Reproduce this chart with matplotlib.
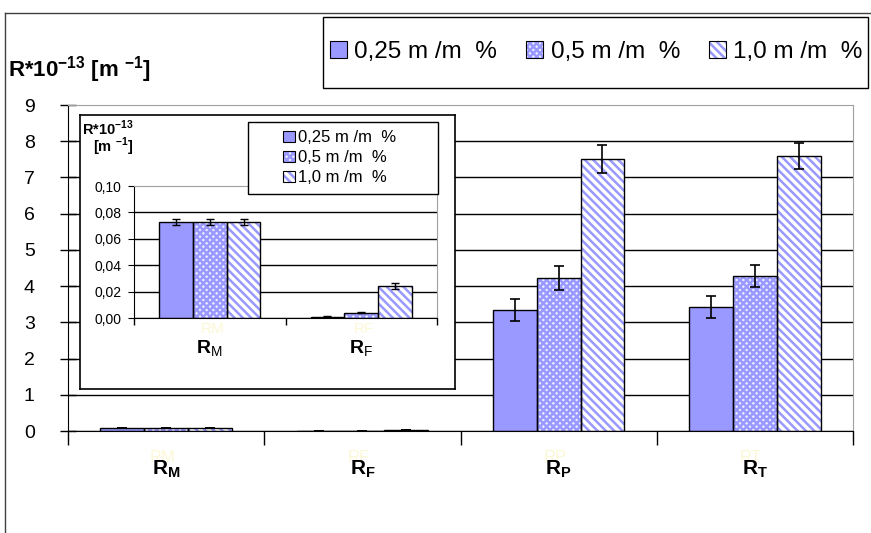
import numpy as np
import matplotlib
matplotlib.use('Agg')
import matplotlib.pyplot as plt
from matplotlib.patches import Patch, Rectangle
from matplotlib.lines import Line2D

plt.rcParams['font.family'] = ['Liberation Sans', 'DejaVu Sans']
plt.rcParams['mathtext.fontset'] = 'custom'
plt.rcParams['mathtext.rm'] = 'Liberation Sans'
plt.rcParams['mathtext.bf'] = 'Liberation Sans:bold'
plt.rcParams['hatch.linewidth'] = 1.8

#%%
# data
categories = ['M', 'F', 'P', 'T']
series = ['0,25 m /m  %', '0,5 m /m  %', '1,0 m /m  %']
vals_025 = [0.073, 0.001, 3.34, 3.43]
vals_05 = [0.073, 0.004, 4.23, 4.28]
vals_10 = [0.073, 0.024, 7.51, 7.60]
err_025 = [0.0022, 0.0003, 0.30, 0.30]
err_05 = [0.0022, 0.0005, 0.33, 0.30]
err_10 = [0.0022, 0.0023, 0.38, 0.36]
inset_cats = 2  # inset shows R_M and R_F only
inset_ticks = [0.0, 0.02, 0.04, 0.06, 0.08, 0.10]
inset_ticklabels = ['0,00', '0,02', '0,04', '0,06', '0,08', '0,10']

vals = [vals_025, vals_05, vals_10]
errs = [err_025, err_05, err_10]
HATCH = '#9999ff'
GHOST = '#fcf8d6'
fills = ['#9999ff', '#eeeeff', 'white']
hatches = [None, 'xxxxx', '\\\\\\\\']

W, H = 871, 533
def fx(px):
    return px / W
def fy(py):
    return 1 - py / H

fig = plt.figure(figsize=(8.71, 5.33), dpi=100)

#%%
# main chart
ax = fig.add_axes([fx(68), fy(431), fx(853) - fx(68), fy(105) - fy(431)])
x = np.arange(len(categories))
width = 0.223


def draw_bars(a, n, lw_err, cap):
    xs = np.arange(n)
    for i in range(3):
        pos = xs + (i - 1) * width
        v = vals[i][:n]
        a.bar(pos, v, width, color=fills[i], hatch=hatches[i], edgecolor=HATCH,
              linewidth=0, zorder=2)
        a.bar(pos, v, width, fill=False, edgecolor='black', linewidth=1, zorder=3)
        a.errorbar(pos, v, yerr=errs[i][:n], fmt='none', ecolor='black',
                   elinewidth=lw_err, capsize=cap, capthick=lw_err, zorder=4)


draw_bars(ax, len(categories), 1.2, 3.8)
ax.set_xlim(-0.5, len(categories) - 0.5)
ax.set_ylim(0, 9)
ax.set_yticks(range(10))
ax.yaxis.grid(True, color='black', linewidth=1)
ax.get_ygridlines()[-1].set_visible(False)
ax.set_axisbelow(True)
ax.tick_params(axis='y', direction='inout', length=12, width=1, labelsize=14, pad=18)
ax.set_xticks(x)
ax.set_xticklabels([r'$\mathbf{R}_{\mathbf{%s}}$' % c for c in categories], fontsize=15)
ax.set_xticks(np.arange(-0.5, len(categories), 1), minor=True)
ax.tick_params(axis='x', which='major', length=0, pad=20)
ax.tick_params(axis='x', which='minor', direction='out', length=10, width=1)
for s in ['top', 'right']:
    ax.spines[s].set_color('#a0a0a0')
# faint leftover labels behind the category names
for c_i, c in enumerate(categories):
    ax.text(c_i - 0.02, -0.72, 'R' + c, color=GHOST, fontsize=12,
            ha='center', va='center', zorder=0, clip_on=False)

fig.text(fx(8), fy(70), r'R*10$^{\mathbf{-13}}$ [m $^{\mathbf{-1}}$]',
         fontsize=16, fontweight='bold', va='center')

#%%
# inset box and inset chart
box = fig.add_axes([fx(80), fy(389), fx(455) - fx(80), fy(115) - fy(389)], zorder=3)
box.set_xticks([])
box.set_yticks([])
for s in box.spines.values():
    s.set_linewidth(1.2)

ax2 = fig.add_axes([fx(134), fy(318), fx(437) - fx(134), fy(186) - fy(318)], zorder=4)
draw_bars(ax2, inset_cats, 1.0, 3.0)
ax2.set_xlim(-0.5, inset_cats - 0.5)
ax2.set_ylim(0, 0.10)
ax2.set_yticks(inset_ticks)
ax2.set_yticklabels(inset_ticklabels)
ax2.yaxis.grid(True, color='black', linewidth=1)
ax2.get_ygridlines()[-1].set_visible(False)
ax2.set_axisbelow(True)
ax2.tick_params(axis='y', direction='out', length=4, labelsize=10, pad=5)
ax2.set_xticks(np.arange(inset_cats))
ax2.set_xticklabels([r'$\mathbf{R}_{\mathrm{%s}}$' % c for c in categories[:inset_cats]],
                    fontsize=14)
ax2.set_xticks(np.arange(-0.5, inset_cats, 1), minor=True)
ax2.tick_params(axis='x', which='major', length=0, pad=15)
ax2.tick_params(axis='x', which='minor', direction='out', length=5, width=1)
for s in ['top', 'right']:
    ax2.spines[s].set_color('#a0a0a0')
for c_i, c in enumerate(categories[:inset_cats]):
    ax2.text(c_i + 0.02, -0.0085, 'R' + c, color=GHOST, fontsize=11,
             ha='center', va='center', zorder=0, clip_on=False)

fig.text(fx(82), fy(128), r'R*10$^{\mathbf{-13}}$', fontsize=10.5, fontweight='bold',
         va='center', zorder=6)
fig.text(fx(93), fy(147), r'[m $^{\mathbf{-1}}$]', fontsize=10.5, fontweight='bold',
         va='center', zorder=6)

#%%
# legends
handles = [(Patch(facecolor=fills[i], hatch=hatches[i], edgecolor=HATCH, linewidth=0),
            Patch(fill=False, edgecolor='black', linewidth=0.8)) for i in range(3)]

fig.add_artist(Rectangle((fx(248), fy(194)), fx(438) - fx(248), fy(122) - fy(194),
                         transform=fig.transFigure, facecolor='white',
                         edgecolor='black', linewidth=1, zorder=5))
fig.legend(handles, series, loc='center left', bbox_to_anchor=(fx(268), fy(158)),
           frameon=False, fontsize=12, handlelength=0.7, handleheight=0.7,
           handletextpad=0.2, labelspacing=0.3).set_zorder(6)

fig.add_artist(Rectangle((fx(323), fy(88)), fx(868) - fx(323), fy(17) - fy(88),
                         transform=fig.transFigure, facecolor='white',
                         edgecolor='black', linewidth=1, zorder=5))
fig.legend(handles, series, loc='center left', bbox_to_anchor=(fx(308), fy(52)),
           ncol=3, frameon=False, fontsize=17.5, handlelength=0.7, handleheight=0.7,
           handletextpad=0.3, columnspacing=1.2).set_zorder(6)

# outer chart border
fig.add_artist(Line2D([fx(5), 1], [fy(13), fy(13)], color='#404040', linewidth=1))
fig.add_artist(Line2D([fx(5), fx(5)], [fy(13), 0], color='#404040', linewidth=1))

fig.savefig('out.png', dpi=100)
